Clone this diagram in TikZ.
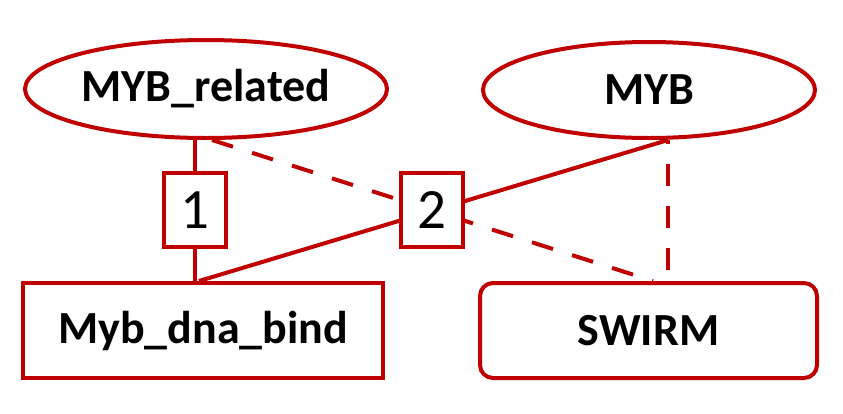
\documentclass[tikz,border=0pt]{standalone}
\usepackage{fontspec}
\setmainfont{Carlito}
\usetikzlibrary{shapes.geometric,calc}
\definecolor{dred}{HTML}{C00000}
\tikzset{
  shapebox/.style={draw=dred, line width=4pt, fill=white, inner sep=0pt, font=\fontsize{46}{50}\selectfont\bfseries},
  ell/.style={shapebox, ellipse},
  numbox/.style={draw=dred, line width=4pt, fill=white, inner sep=0pt, minimum width=62pt, minimum height=74pt, font=\fontsize{57}{60}\selectfont},
  edge/.style={draw=dred, line width=4pt},
  dedge/.style={edge, dash pattern=on 22pt off 20pt}
}
\begin{document}
\begin{tikzpicture}[x=1pt,y=-1pt]
\useasboundingbox (0,0) rectangle (843,413);
\node[ell, minimum width=362pt, minimum height=98pt] (rel) at (206,89) {MYB\_related};
\node[ell, minimum width=332pt, minimum height=96pt] (myb) at (649,90) {MYB};
\node[shapebox, minimum width=360pt, minimum height=95pt] (dna) at (203,330.5) {Myb\_dna\_bind};
\node[shapebox, rounded corners=13pt, minimum width=337pt, minimum height=95pt] (swirm) at (648.5,330.5) {SWIRM};
\coordinate (relA) at ($(rel.south)+(-11,0)$);
\coordinate (relB) at ($(rel.south)+(6,0)$);
\coordinate (mybA) at ($(myb.south)+(19,0)$);
\coordinate (dnaA) at ($(dna.north)+(-8,0)$);
\coordinate (dnaB) at ($(dna.north)+(-4,0)$);
\coordinate (swA) at ($(swirm.north)+(4.5,0)$);
\coordinate (swB) at ($(swirm.north)+(19.5,0)$);
\draw[edge] (relA) -- (relA |- dnaA);
\draw[edge] (mybA) -- (dnaB);
\draw[dedge] (relB) -- (swA);
\draw[dedge, dash phase=-24pt] (mybA) -- (swB);
\node[numbox] (b1) at (194.5,210) {1};
\node[numbox] (b2) at (432,210) {2};
\end{tikzpicture}
\end{document}
